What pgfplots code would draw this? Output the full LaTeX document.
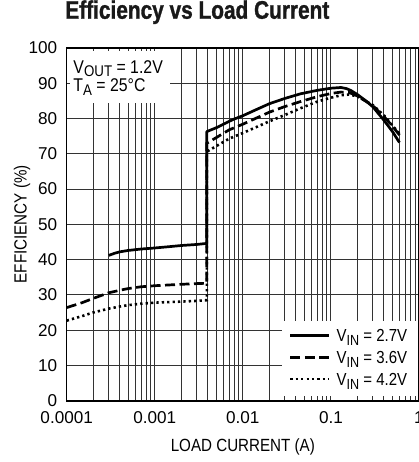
\documentclass[border=0pt]{standalone}
\usepackage{fontspec}
\setmainfont{Liberation Sans}
\newfontfamily\condfont{Liberation Sans}[FakeStretch=0.86]
\newfontfamily\titlefont{Liberation Sans Bold}[FakeStretch=0.82, FakeBold=1.2]
\usepackage{graphicx}
\usepackage{pgfplots}
\pgfplotsset{compat=1.18}
\newcommand\sub[2]{\raisebox{-#2}{\scalebox{0.84}{#1}}}

\begin{document}
\begin{tikzpicture}
\begin{axis}[
  name=ax,
  xmode=log,
  scale only axis,
  width=352.3bp, height=352.7bp,
  xmin=1e-4, xmax=1, ymin=0, ymax=100,
  xtick={1e-4,1e-3,1e-2,1e-1,1},
  xticklabels={0.0001,0.001,0.01,0.1,1},
  minor xtick={2e-4,3e-4,4e-4,5e-4,6e-4,7e-4,8e-4,9e-4,
               2e-3,3e-3,4e-3,5e-3,6e-3,7e-3,8e-3,9e-3,
               0.02,0.03,0.04,0.05,0.06,0.07,0.08,0.09,
               0.2,0.3,0.4,0.5,0.6,0.7,0.8,0.9},
  ytick={0,10,...,100},
  xmajorgrids, xminorgrids, ymajorgrids,
  major grid style={black!80, line width=0.9bp},
  minor grid style={black!80, line width=0.9bp},
  major tick length=0pt, minor tick length=0pt,
  axis line style={line width=1.6bp},
  /pgf/number format/assume math mode=true,
  tick label style={font=\fontsize{17.2}{20}\selectfont, inner sep=0pt, outer sep=0pt},
  xticklabel style={anchor=base, yshift=-23bp},
  yticklabel style={anchor=east, xshift=-9.5bp},
  xlabel={LOAD CURRENT (A)},
  xlabel style={font=\condfont\fontsize{17.7}{20}\selectfont, at={(axis description cs:0.5,-0.143)}, anchor=base, inner sep=0pt},
  ylabel={EFFICIENCY (\%)},
  ylabel style={font=\condfont\fontsize{17.7}{20}\selectfont, at={(axis description cs:-0.11354,0.5)}, anchor=base, inner sep=0pt},
  title={Efficiency vs Load Current},
  title style={font=\titlefont\fontsize{25.5}{28}\selectfont, text=black!90, at={(axis description cs:-0.00426,1.066)}, anchor=base west, inner sep=0pt},
  legend style={draw=none, fill=none, inner sep=0pt, outer sep=0pt,
    at={(axis description cs:0.631,0.2013)}, anchor=north west,
    row sep=9.67bp,
    font=\condfont\fontsize{17.5}{20}\selectfont,
    nodes={inner sep=0pt, text height=12bp, text depth=0bp},
    /tikz/every odd column/.append style={column sep=6bp}},
  legend cell align=left,
  legend image code/.code={\draw[#1] (0bp,0bp) -- (39bp,0bp);},
]
\fill[white] ([shift={(3bp,-3bp)}]rel axis cs:0,1) rectangle (rel axis cs:0.2932,0.844);
\fill[white] (rel axis cs:0.611,0.0142) rectangle ([xshift=-1bp]rel axis cs:1,0.226);
\node[anchor=base west, inner sep=0pt, font=\condfont\fontsize{18.5}{20}\selectfont] at ([shift={(6.6bp,-25.3bp)}]rel axis cs:0,1) {V\sub{OUT}{3.4bp} = 1.2V};
\node[anchor=base west, inner sep=0pt, font=\condfont\fontsize{18.5}{20}\selectfont] at ([shift={(6.6bp,-43.7bp)}]rel axis cs:0,1) {T\sub{A}{3.4bp} = 25°C};

\addplot[black, line width=2.7bp, line join=round] coordinates {
(0.0003,41.2) (0.00035,41.8) (0.0004,42.2) (0.0005,42.6) (0.0007,43.0) (0.001,43.3) (0.0015,43.7) (0.002,44.0) (0.003,44.3) (0.0039,44.6)
(0.0039,76.3) (0.005,77.4) (0.0077,79.7) (0.01,80.8) (0.015,82.8) (0.02,84.2) (0.03,85.7) (0.045,87.0) (0.07,88.0) (0.1,88.6) (0.13,88.8) (0.15,88.5) (0.17,87.9) (0.2,86.8) (0.25,85.0) (0.3,83.3) (0.4,79.5) (0.5,76.3) (0.6,73.2)
};
\addlegendentry{V\sub{IN}{4bp} = 2.7V}
\addplot[black, line width=2.7bp, dash pattern=on 10bp off 4.5bp] coordinates {
(0.0001,26.4) (0.00015,27.8) (0.0002,29.0) (0.0003,30.6) (0.0004,31.3) (0.0005,31.8) (0.0007,32.3) (0.001,32.6) (0.002,33.0) (0.003,33.2) (0.0039,33.3)
(0.0039,73.0) (0.005,74.6) (0.007,76.8) (0.01,78.4) (0.02,81.8) (0.03,83.4) (0.045,84.8) (0.07,86.2) (0.1,87.1) (0.13,87.5) (0.16,87.4) (0.2,86.4) (0.3,83.6) (0.4,80.6) (0.5,77.8) (0.62,74.9)
};
\addlegendentry{V\sub{IN}{4bp} = 3.6V}
\addplot[black, line width=2.6bp, dash pattern=on 2.3bp off 3.1bp] coordinates {
(0.0001,22.7) (0.00015,24.0) (0.0002,25.0) (0.0003,26.1) (0.0004,26.7) (0.0005,27.1) (0.0007,27.5) (0.001,27.8) (0.002,28.1) (0.003,28.3) (0.0039,28.5)
(0.0039,70.6) (0.005,72.2) (0.007,74.3) (0.01,75.9) (0.02,79.2) (0.03,81.0) (0.045,82.9) (0.07,84.8) (0.1,85.9) (0.13,86.6) (0.16,86.8) (0.2,86.3) (0.3,83.8) (0.4,80.9) (0.5,78.0) (0.62,75.3)
};
\addlegendentry{V\sub{IN}{4bp} = 4.2V}
\end{axis}
\pgfresetboundingbox
\path[use as bounding box] ([xshift=-66.7bp,yshift=-61.3bp]ax.south west) rectangle ([yshift=48bp]ax.north east);
\end{tikzpicture}
\end{document}
